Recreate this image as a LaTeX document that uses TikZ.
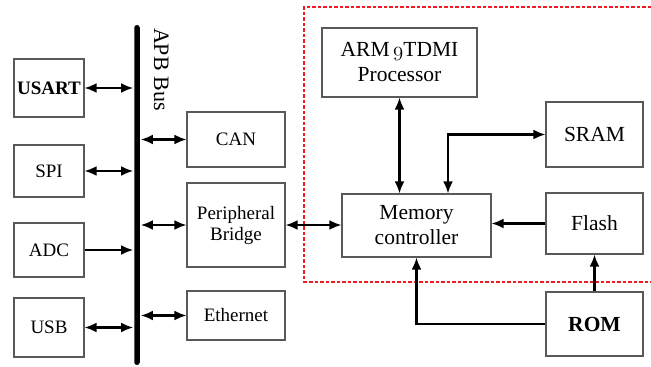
\documentclass[tikz,border=0pt]{standalone}
\usepackage{fontspec}
\setmainfont{Liberation Serif}
\usetikzlibrary{positioning,arrows.meta}
\definecolor{boxgray}{gray}{0.35}
\definecolor{dashred}{rgb}{0.95,0.1,0.13}

\begin{document}
\begin{tikzpicture}[x=1pt, y=1pt, >={Latex[length=12pt,width=10pt]},
	line width=2.2pt, on grid,
	lbox/.style ={draw=boxgray, line width=1.1pt, minimum width=70pt,
		inner sep=0pt, align=center, font=\fontsize{19}{21}\selectfont},
	mbox/.style ={lbox, minimum width=98pt},
	rbox/.style ={draw=boxgray, line width=1.1pt, minimum width=97pt,
		inner sep=0pt, align=center, font=\fontsize{21.5}{25}\selectfont}]
	\useasboundingbox (0,0) rectangle (651,367);
	% APB bus and its peripherals
	\node[fill=black, minimum width=5.5pt, minimum height=340pt, inner sep=0pt,
		rounded corners=2.7pt] (bus) at (137,172) {};
	\node[rotate=-90, anchor=base west, inner sep=0pt,
		font=\fontsize{22}{24}\selectfont] (apb) at (154,340) {APB Bus};
	\node[lbox, minimum height=58pt] (usart) at (49,279) {\textbf{USART}};
	\node[lbox, minimum height=52pt] (spi) [below=83pt of usart] {SPI};
	\node[lbox, minimum height=54pt] (adc) [below=79pt of spi] {ADC};
	\node[lbox, minimum height=59pt] (usb) [below=77.5pt of adc] {USB};
	\node[mbox, minimum height=55pt] (can) at (236,227.5) {CAN};
	\node[mbox, minimum height=84pt] (bridge) [below=85.5pt of can] {Peripheral\\Bridge};
	\node[mbox, minimum height=49pt] (eth) [below=90.5pt of bridge] {Ethernet};
	% core part
	\draw[dashred, line width=2pt, dash pattern=on 3.5pt off 2pt]
		(651,360) -| (304,85) -- (651,85);
	\node[rbox, minimum width=155pt, minimum height=69pt] (arm) at (399.5,304.5)
		{ARM\,{\usefont{OML}{cmm}{m}{it}9}TDMI\\Processor};
	\node[rbox, minimum width=149pt, minimum height=63pt] (mc) at (416.5,141.5)
		{Memory\\controller};
	\node[rbox, minimum height=65pt] (sram) at (594.5,232.5) {SRAM};
	\node[rbox, minimum height=61pt] (flash) [below=89pt of sram] {Flash};
	\node[rbox, minimum height=64pt] (rom) [below=100.5pt of flash] {\textbf{ROM}};
	% connections
	\draw[<->] (usart.east) -- (usart.east -| bus.west);
	\draw[<->] (spi.east) -- (spi.east -| bus.west);
	\draw[->] (adc.east) -- (adc.east -| bus.west);
	\draw[<->] (usb.east) -- (usb.east -| bus.west);
	\draw[<->] (can.west -| bus.east) -- (can.west);
	\draw[<->] (bridge.west -| bus.east) -- (bridge.west);
	\draw[<->] (eth.west -| bus.east) -- (eth.west);
	\draw[<->] (bridge.east) -- (bridge.east -| mc.west);
	\draw[<->] (arm.south) -- (arm.south |- mc.north);
	\draw[<->] (sram.west) -| ([xshift=31.5pt]mc.north);
	\draw[->] (flash.west) -- (flash.west -| mc.east);
	\draw[->] (rom.north) -- (flash.south);
	\draw[->] (rom.west) -| (mc.south);
\end{tikzpicture}
\end{document}
